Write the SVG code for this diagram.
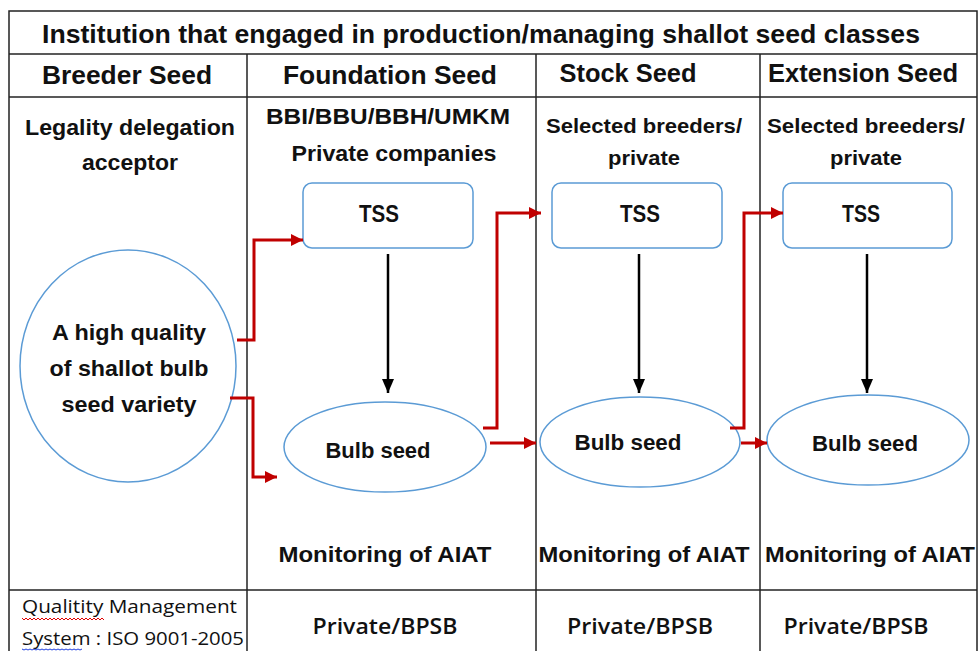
<svg xmlns="http://www.w3.org/2000/svg" width="978" height="651" viewBox="0 0 978 651">
<style>
.t{font-family:"Liberation Sans",Arial,sans-serif;font-weight:bold;fill:#111;text-anchor:middle;}
.f{font-family:"Open Sans","Liberation Sans",Arial,sans-serif;fill:#111;}
.grid{stroke:#222;stroke-width:1.5;fill:none;}
.node{fill:#fff;stroke:#5b9bd5;stroke-width:1.5;}
.red{stroke:#c00000;stroke-width:3;fill:none;}
.blk{stroke:#000;stroke-width:2.5;fill:none;}
</style>
<defs>
<marker id="ar" markerUnits="userSpaceOnUse" markerWidth="14" markerHeight="14" refX="12" refY="7" orient="auto">
<path d="M0,1 L12,7 L0,13 Z" fill="#c00000"/>
</marker>
<marker id="ab" markerUnits="userSpaceOnUse" markerWidth="16" markerHeight="14" refX="14" refY="7" orient="auto">
<path d="M0,1 L14,7 L0,13 Z" fill="#000"/>
</marker>
</defs>
<rect width="978" height="651" fill="#fff"/>
<g id="table">
<rect class="grid" x="9" y="11" width="968" height="645"/>
<line class="grid" x1="9" y1="54" x2="977" y2="54"/>
<line class="grid" x1="9" y1="97" x2="977" y2="97"/>
<line class="grid" x1="9" y1="590" x2="977" y2="590"/>
<line class="grid" x1="247" y1="54" x2="247" y2="651"/>
<line class="grid" x1="536" y1="54" x2="536" y2="651"/>
<line class="grid" x1="760" y1="54" x2="760" y2="651"/>
<text class="t" x="481" y="43" font-size="25" textLength="878" lengthAdjust="spacingAndGlyphs">Institution that engaged in production/managing shallot seed classes</text>
<text class="t" x="127" y="84" font-size="25" textLength="170" lengthAdjust="spacingAndGlyphs">Breeder Seed</text>
<text class="t" x="390" y="84" font-size="25" textLength="214" lengthAdjust="spacingAndGlyphs">Foundation Seed</text>
<text class="t" x="628" y="82" font-size="25" textLength="137" lengthAdjust="spacingAndGlyphs">Stock Seed</text>
<text class="t" x="863" y="82" font-size="25" textLength="190" lengthAdjust="spacingAndGlyphs">Extension Seed</text>
<text class="t" x="130" y="135" font-size="22" textLength="210" lengthAdjust="spacingAndGlyphs">Legality delegation</text>
<text class="t" x="130" y="170" font-size="22" textLength="96" lengthAdjust="spacingAndGlyphs">acceptor</text>
<text class="t" x="388" y="124" font-size="22" textLength="244" lengthAdjust="spacingAndGlyphs">BBI/BBU/BBH/UMKM</text>
<text class="t" x="394" y="161" font-size="22" textLength="205" lengthAdjust="spacingAndGlyphs">Private companies</text>
<text class="t" x="644" y="133" font-size="21" textLength="196" lengthAdjust="spacingAndGlyphs">Selected breeders/</text>
<text class="t" x="644" y="165" font-size="21" textLength="72" lengthAdjust="spacingAndGlyphs">private</text>
<text class="t" x="866" y="133" font-size="21" textLength="198" lengthAdjust="spacingAndGlyphs">Selected breeders/</text>
<text class="t" x="866" y="165" font-size="21" textLength="72" lengthAdjust="spacingAndGlyphs">private</text>
<text class="t" x="385" y="562" font-size="22" textLength="213" lengthAdjust="spacingAndGlyphs">Monitoring of AIAT</text>
<text class="t" x="644" y="562" font-size="22" textLength="211" lengthAdjust="spacingAndGlyphs">Monitoring of AIAT</text>
<text class="t" x="870" y="562" font-size="22" textLength="210" lengthAdjust="spacingAndGlyphs">Monitoring of AIAT</text>
<text class="f" x="22" y="613" font-size="19" font-weight="500" textLength="215" lengthAdjust="spacingAndGlyphs">Qualitity Management</text>
<text class="f" x="22" y="645" font-size="19" font-weight="500" textLength="222" lengthAdjust="spacingAndGlyphs">System : ISO 9001-2005</text>
<path d="M22,618 l2,2 l2,-2 l2,2 l2,-2 l2,2 l2,-2 l2,2 l2,-2 l2,2 l2,-2 l2,2 l2,-2 l2,2 l2,-2 l2,2 l2,-2 l2,2 l2,-2 l2,2 l2,-2 l2,2 l2,-2 l2,2 l2,-2 l2,2 l2,-2 l2,2 l2,-2 l2,2 l2,-2 l2,2 l2,-2 l2,2 l2,-2 l2,2 l2,-2 l2,2 l2,-2 l2,2 l2,-2 l2,2" stroke="#e00000" stroke-width="1" fill="none"/>
<path d="M22,649 l2,1 l2,-1 l2,1 l2,-1 l2,1 l2,-1 l2,1 l2,-1 l2,1 l2,-1 l2,1 l2,-1 l2,1 l2,-1 l2,1 l2,-1 l2,1 l2,-1 l2,1 l2,-1 l2,1 l2,-1 l2,1 l2,-1 l2,1 l2,-1 l2,1 l2,-1 l2,1 l2,-1" stroke="#2040e0" stroke-width="1" fill="none"/>
<text class="f" x="385" y="634" font-size="22" font-weight="600" text-anchor="middle" textLength="145" lengthAdjust="spacingAndGlyphs">Private/BPSB</text>
<text class="f" x="640" y="634" font-size="22" font-weight="600" text-anchor="middle" textLength="146" lengthAdjust="spacingAndGlyphs">Private/BPSB</text>
<text class="f" x="856" y="634" font-size="22" font-weight="600" text-anchor="middle" textLength="145" lengthAdjust="spacingAndGlyphs">Private/BPSB</text>
</g>
<g id="variety">
<ellipse class="node" cx="128" cy="366" rx="108" ry="116"/>
<text class="t" x="129" y="340" font-size="22" textLength="154" lengthAdjust="spacingAndGlyphs">A high quality</text>
<text class="t" x="129" y="376" font-size="22" textLength="159" lengthAdjust="spacingAndGlyphs">of shallot bulb</text>
<text class="t" x="129" y="412" font-size="22" textLength="135" lengthAdjust="spacingAndGlyphs">seed variety</text>
</g>
<g id="tss1">
<rect class="node" x="303" y="183" width="170" height="65" rx="9"/>
<text class="t" x="379" y="222" font-size="23" textLength="40" lengthAdjust="spacingAndGlyphs">TSS</text>
</g>
<g id="tss2">
<rect class="node" x="552" y="183" width="170" height="65" rx="9"/>
<text class="t" x="640" y="222" font-size="23" textLength="40" lengthAdjust="spacingAndGlyphs">TSS</text>
</g>
<g id="tss3">
<rect class="node" x="783" y="183" width="169" height="65" rx="9"/>
<text class="t" x="861" y="222" font-size="23" textLength="38" lengthAdjust="spacingAndGlyphs">TSS</text>
</g>
<g id="bulb1">
<ellipse class="node" cx="385" cy="447" rx="101" ry="45"/>
<text class="t" x="378" y="458" font-size="22" textLength="105" lengthAdjust="spacingAndGlyphs">Bulb seed</text>
</g>
<g id="bulb2">
<ellipse class="node" cx="640" cy="442" rx="100" ry="45"/>
<text class="t" x="628" y="450" font-size="22" textLength="107" lengthAdjust="spacingAndGlyphs">Bulb seed</text>
</g>
<g id="bulb3">
<ellipse class="node" cx="868" cy="440" rx="101" ry="45"/>
<text class="t" x="865" y="451" font-size="22" textLength="106" lengthAdjust="spacingAndGlyphs">Bulb seed</text>
</g>
<g id="connectors">
<path class="red" d="M237,340 H254 V240 H303" marker-end="url(#ar)"/>
<path class="red" d="M230,398 H253 V477 H277" marker-end="url(#ar)"/>
<path class="red" d="M483,428 H497 V213 H541" marker-end="url(#ar)"/>
<path class="red" d="M490,443 H536" marker-end="url(#ar)"/>
<path class="red" d="M730,428 H744 V213 H783" marker-end="url(#ar)"/>
<path class="red" d="M741,443 H767" marker-end="url(#ar)"/>
<path class="blk" d="M388,254 V393" marker-end="url(#ab)"/>
<path class="blk" d="M639,254 V393" marker-end="url(#ab)"/>
<path class="blk" d="M867,254 V393" marker-end="url(#ab)"/>
</g>
</svg>
